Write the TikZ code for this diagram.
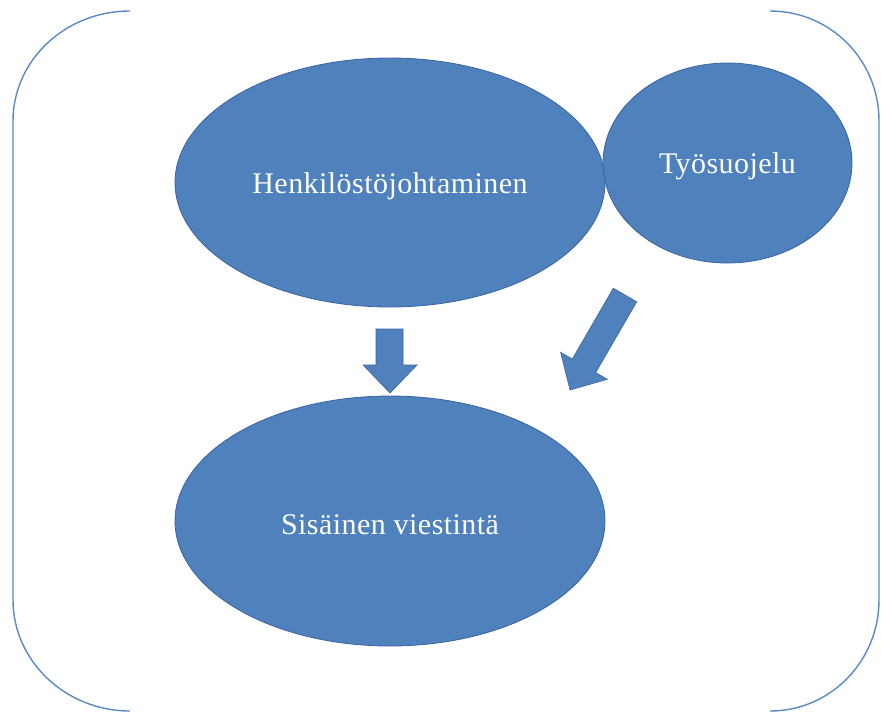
\documentclass[tikz,border=0pt]{standalone}
\usepackage{fontspec}
\setmainfont{Liberation Serif}[LetterSpace=1.5]
\usetikzlibrary{shapes.geometric}
\definecolor{ofblue}{HTML}{4F81BD}
\definecolor{ofdark}{HTML}{3A64A0}
\definecolor{framecol}{HTML}{5A8AC6}
\tikzset{
  blob/.style={ellipse, fill=ofblue, draw=ofdark, line width=0.8pt, inner sep=0pt},
  lbl/.style={text=white, font=\fontsize{30}{34}\selectfont, inner sep=0pt},
  blockarrow/.style={fill=ofblue, draw=ofdark, line width=0.6pt, line join=miter},
  framebracket/.style={draw=framecol, line width=1.4pt}
}
\begin{document}
\begin{tikzpicture}[x=1pt,y=-1pt]
\useasboundingbox (0,0) rectangle (881,713);
% frame brackets
\draw[framebracket] (130,11) .. controls (65.4,11) and (13,60.2) .. (13,121) -- (13,600)
  .. controls (13,660.8) and (65.4,711) .. (130,711);
\draw[framebracket] (770,11) .. controls (830.8,11) and (879,60.2) .. (879,121) -- (879,600)
  .. controls (879,660.8) and (830.8,711) .. (770,711);
% ellipses
\node[blob, minimum width=430pt, minimum height=249pt] (henk) at (390,182.5) {};
\node[blob, minimum width=249pt, minimum height=200pt] (tyo) at (727.5,163) {};
\node[blob, minimum width=430pt, minimum height=250pt] (sis) at (390,521) {};
\node[lbl] (henkT) at ([yshift=-4pt]henk.center) {Henkilöstöjohtaminen};
\node[lbl] (tyoT) at ([yshift=-3pt]tyo.center) {Työsuojelu};
\node[lbl] (sisT) at ([yshift=-4pt]sis.center) {Sisäinen viestintä};
% block arrows
\draw[blockarrow] (376,329) -- (403,329) -- (403,365) -- (417,365) -- (390,393) -- (363,365) -- (376,365) -- cycle;
\draw[blockarrow] (613.3,288.2) -- (636.7,301.8) -- (595.7,372.6) -- (607.4,379.3) -- (570,390) -- (560.6,352.3) -- (572.3,359) -- cycle;
\end{tikzpicture}
\end{document}
